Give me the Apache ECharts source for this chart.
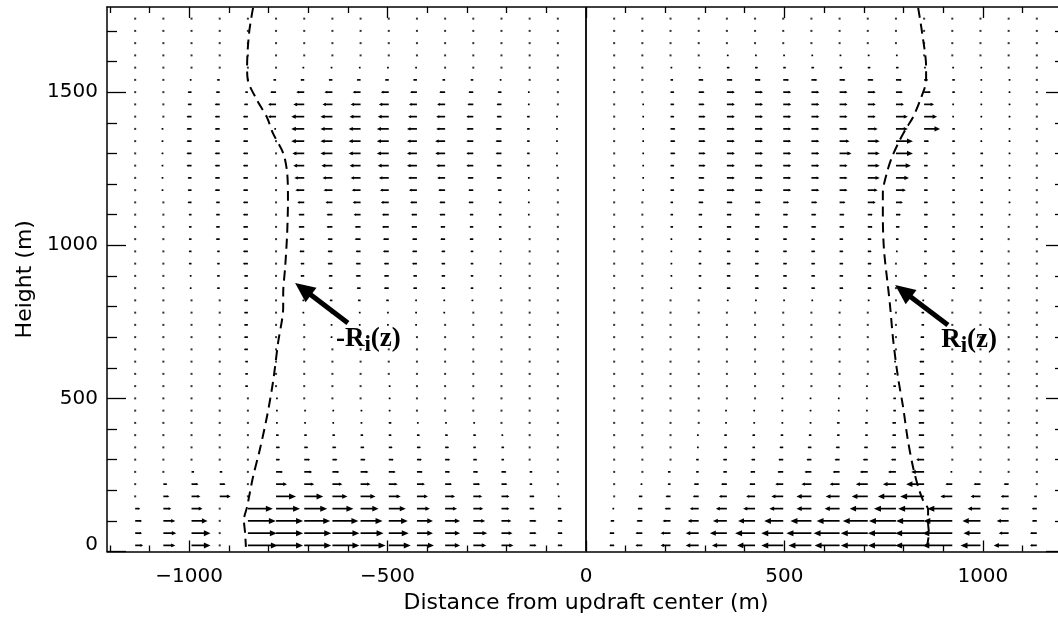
<!DOCTYPE html>
<html><head><meta charset="utf-8">
<script src="https://cdn.jsdelivr.net/npm/echarts@6/dist/echarts.min.js"></script>
<style>html,body{margin:0;padding:0;background:#fff}#c{width:1058px;height:624px}</style>
</head><body><div id="c"></div>
<script>
// Grid heights (m) of the vector rows
const heights = [20,60,100,140,180,220,260,300,340,380,420,460,500,540,580,620,660,700,740,780,820,860,900,940,980,1020,1060,1100,1140,1180,1220,1260,1300,1340,1380,1420,1460,1500,1540,1580,1620,1660,1700,1740];
// Column positions (m)
const colsLeft = [-1136,-1065,-994,-923,-852,-781,-710,-639,-568,-497,-426,-355,-284,-213,-142,-71];
const colsRight = [71,142,213,284,355,426,497,568,639,710,781,852,923,994,1065,1136];
// Horizontal velocity (arbitrary units, + = toward +x), one row per height
const uLeft = [
[8,12,19,0,30,27,27,27,25,22,17,15,13,12,7,5],
[7,13,19,0,29,27,27,27,23,20,16,15,14,11,7,5],
[7,12,16,0,28,27,26,26,22,19,16,15,12,10,7,5],
[5,8,11,0,25,24,23,21,18,17,13,12,10,8,5,4],
[0,6,9,11,0,20,19,15,15,12,11,10,9,8,5,2],
[0,4,7,6,0,11,10,10,10,9,8,7,7,6,3,0],
[0,0,3,3,0,7,8,7,8,7,6,5,5,5,3,0],
[0,0,0,0,0,4,6,5,5,5,5,5,4,3,0,0],
[0,0,0,0,0,4,4,4,4,4,4,4,3,3,0,0],
[0,0,0,0,0,3,3,3,3,3,3,3,3,2,0,0],
[0,0,0,0,0,2,2,2,2,3,2,2,2,0,0,0],
[0,0,0,0,0,2,2,2,2,2,0,0,0,0,0,0],
[0,0,0,0,0,2,0,0,0,2,0,0,0,0,0,0],
[0,0,0,0,-3,0,0,0,0,2,0,0,0,0,0,0],
[0,0,0,0,-3,0,0,0,0,0,0,0,0,0,0,0],
[0,0,0,0,-3,0,0,0,0,0,0,0,0,0,0,0],
[0,0,0,0,-4,0,0,0,0,0,0,0,0,0,0,0],
[0,0,0,0,-4,0,0,-2,-2,-2,0,0,0,0,0,0],
[0,0,0,0,-4,0,0,-2,-2,-2,-2,0,0,0,0,0],
[0,0,0,0,-4,0,-2,-2,-2,-2,-2,-2,0,0,0,0],
[0,0,0,0,-4,0,-2,-3,-3,-3,-2,-2,-2,0,0,0],
[0,0,-2,-3,-4,0,-4,-4,-4,-5,-4,-4,-3,-2,0,0],
[0,0,-2,-3,-4,0,-4,-4,-5,-5,-4,-4,-3,-2,0,0],
[0,0,-3,-3,-5,0,-4,-5,-5,-5,-5,-4,-3,-2,0,0],
[0,0,-3,-3,-5,0,-5,-5,-5,-6,-5,-4,-3,-2,0,0],
[0,0,-3,-4,-5,0,-5,-5,-6,-6,-5,-5,-4,-3,0,0],
[0,0,-3,-4,-5,0,-6,-6,-6,-7,-6,-5,-4,-3,0,0],
[0,0,-3,-4,-5,0,-6,-6,-7,-7,-6,-6,-4,-3,-2,0],
[0,0,-4,-4,-5,0,-7,-7,-8,-8,-7,-6,-5,-3,-2,0],
[0,-2,-4,-5,-5,0,-9,-9,-9,-9,-8,-7,-5,-4,-2,0],
[0,-2,-4,-5,-5,0,-10,-10,-10,-10,-9,-8,-6,-5,-2,0],
[0,-2,-5,-5,-5,0,-11,-11,-11,-11,-10,-9,-7,-5,-3,-2],
[0,-2,-5,-5,-5,0,-12,-12,-12,-12,-10,-10,-7,-6,-3,-2],
[0,-2,-5,-5,-5,0,-13,-12,-12,-12,-10,-10,-7,-6,-3,-2],
[0,-2,-5,-5,-5,-2,-13,-12,-12,-12,-10,-9,-7,-6,-3,-2],
[0,0,-5,-5,-5,-8,-13,-12,-11,-11,-9,-9,-7,-5,-3,-2],
[0,0,-4,-5,-4,-8,-11,-10,-10,-10,-8,-8,-6,-5,-2,0],
[0,0,-4,-4,-3,-6,-8,-8,-8,-8,-7,-6,-5,-4,-2,0],
[0,0,-2,-3,0,-3,-4,-4,-4,-4,-4,-3,-3,-2,0,0],
[0,0,0,0,0,0,-2,-2,-2,-2,-2,0,0,0,0,0],
[0,0,0,0,0,0,0,0,0,0,0,0,0,0,0,0],
[0,0,0,0,0,0,0,0,0,0,0,0,0,0,0,0],
[0,0,0,0,0,0,0,0,0,0,0,0,0,0,0,0],
[0,0,0,0,0,0,0,0,0,0,0,0,0,0,0,0]
];
const uRight = [
[-5,-7,-10,-13,-15,-18,-22,-23,-25,-27,-28,-29,-30,-20,-15,-7],
[-5,-7,-10,-13,-17,-20,-22,-25,-26,-27,-28,-29,-30,-17,-10,-7],
[-4,-6,-8,-11,-14,-17,-19,-21,-23,-25,-27,-28,-29,-18,-12,-5],
[-2,-5,-6,-9,-11,-12,-14,-15,-15,-18,-22,-26,-25,-13,-8,-5],
[0,-4,-5,-6,-8,-9,-12,-15,-14,-16,-18,-24,-12,-10,-8,-3],
[0,-2,-3,-5,-6,-6,-8,-10,-10,-12,-13,-18,-7,-7,-5,0],
[0,0,-3,-3,-4,-5,-6,-7,-7,-8,-8,-13,-2,0,0,0],
[0,0,0,-3,-4,-4,-5,-5,-5,-5,-5,-8,0,0,0,0],
[0,0,0,-2,-3,-3,-4,-4,-4,-4,-5,-6,0,0,0,0],
[0,0,0,-2,-3,-3,-3,-3,-3,-3,-4,-6,0,0,0,0],
[0,0,0,0,-2,-2,-2,-2,-3,-3,-4,-6,0,0,0,0],
[0,0,0,0,-2,-2,-2,-2,-2,-2,-3,-6,0,0,0,0],
[0,0,0,0,0,0,-2,-2,-2,-2,-3,-5,0,0,0,0],
[0,0,0,0,0,0,0,0,0,-2,-3,-5,0,0,0,0],
[0,0,0,0,0,0,0,0,0,0,-2,-5,0,0,0,0],
[0,0,0,0,0,0,0,0,0,0,-2,-5,0,0,0,0],
[0,0,0,0,0,0,0,0,0,0,0,-4,0,0,0,0],
[0,0,0,0,0,0,0,0,0,0,0,-4,0,0,0,0],
[0,0,0,0,0,0,0,0,0,0,0,-3,0,0,0,0],
[0,0,0,0,0,0,0,0,0,0,0,-3,0,0,0,0],
[0,0,0,0,2,2,2,2,2,2,0,-2,0,0,0,0],
[0,0,2,3,4,4,4,4,4,4,0,3,3,3,0,0],
[0,0,2,3,4,4,4,4,4,4,0,3,3,3,0,0],
[0,0,2,3,4,4,4,4,4,4,0,3,3,3,0,0],
[0,0,2,3,4,4,4,4,4,4,2,3,3,3,0,0],
[0,0,2,3,4,4,4,4,4,4,3,3,3,3,0,0],
[0,0,3,4,5,5,5,5,5,5,4,4,3,3,0,0],
[0,0,3,4,5,5,5,5,5,5,5,4,3,3,2,0],
[0,0,3,5,6,6,6,6,6,8,7,4,3,3,2,0],
[0,2,4,6,8,8,8,8,8,10,10,4,3,3,2,0],
[0,2,4,6,8,8,8,8,8,12,13,4,3,3,2,0],
[0,2,4,7,8,8,8,8,8,12,15,4,3,3,2,0],
[0,2,5,7,8,8,8,8,12,12,17,4,3,3,2,0],
[0,2,5,7,8,8,8,8,10,12,17,5,3,2,2,0],
[0,2,5,7,8,8,8,8,8,10,12,16,3,2,2,0],
[0,2,4,7,8,8,8,8,8,8,12,13,2,2,2,0],
[0,2,4,6,8,8,8,8,8,8,8,10,2,2,2,0],
[0,0,4,6,8,8,8,8,8,8,7,7,3,2,2,0],
[0,0,3,5,6,6,6,6,6,6,6,4,3,2,2,0],
[0,0,2,2,3,3,3,3,3,3,3,2,2,2,0,0],
[0,0,0,0,2,2,2,2,2,2,2,0,0,0,0,0],
[0,0,0,0,0,0,0,0,0,0,0,0,0,0,0,0],
[0,0,0,0,0,0,0,0,0,0,0,0,0,0,0,0],
[0,0,0,0,0,0,0,0,0,0,0,0,0,0,0,0]
];
// Dashed boundary curves [x (m), z (m)]
const rNeg = [[-839,1775],[-849,1693],[-854,1582],[-852,1539],[-829,1474],[-804,1418],[-789,1366],[-763,1301],[-753,1236],[-751,1148],[-753,1040],[-758,929],[-763,844],[-763,798],[-776,681],[-789,551],[-804,440],[-822,332],[-839,244],[-854,146],[-862,103],[-859,60],[-857,15]];
const rPos = [[837,1775],[847,1693],[857,1582],[857,1539],[842,1474],[824,1418],[809,1386],[791,1344],[771,1288],[758,1236],[748,1171],[748,1092],[751,984],[761,864],[766,805],[774,691],[786,570],[799,472],[811,364],[824,276],[837,211],[849,168],[862,136],[862,93],[864,60],[859,15]];
// Annotations
const annoLabels = ['{b|-R}{s|i}{b|(z)}', '{b|R}{s|i}{b|(z)}'];
const annoLabelPos = [[-630,744],[895,740]];
const annoTips = [[-733,877],[779,870]];
const annoTails = [[-600,746],[912,740]];
// Axis ticks
const xMajor = [-1000,-500,0,500,1000];
const xMinor = [-1200,-1100,-900,-800,-700,-600,-400,-300,-200,-100,100,200,300,400,600,700,800,900,1100,1200];
const yMajor = [0,500,1000,1500];
const yMinor = [100,200,300,400,600,700,800,900,1100,1200,1300,1400,1600,1700];
const centerLine = [[0,0],[0,1778]];

const XMIN=-1207, XMAX=1207, YMIN=0, YMAX=1778;
const VSCALE = 2.52; // axis metres per velocity unit

const vecData = [];
heights.forEach((z,k)=>{
  colsLeft.forEach((x,j)=>vecData.push([x,z,uLeft[k][j]]));
  colsRight.forEach((x,j)=>vecData.push([x,z,uRight[k][j]]));
});

function vecItem(params, api){
  const x=api.value(0), z=api.value(1), u=api.value(2);
  const p0=api.coord([x,z]);
  const p1=api.coord([x+u*VSCALE,z]);
  const L=p1[0]-p0[0];
  if (Math.abs(L)<1.2) return {type:'rect', shape:{x:p0[0]-1,y:p0[1]-1,width:2,height:2}, style:{fill:'#333'}};
  const d=L>0?1:-1, a=Math.abs(L);
  const h=Math.min(7,a*0.35), w=Math.min(3,a*0.16);
  return {type:'group', children:[
    {type:'line', shape:{x1:p0[0],y1:p0[1],x2:p1[0]-d*h*0.5,y2:p1[1]}, style:{stroke:'#000',lineWidth:1.7}},
    {type:'polygon', shape:{points:[[p1[0],p1[1]],[p1[0]-d*h,p1[1]-w],[p1[0]-d*h,p1[1]+w]]}, style:{fill:'#000'}}
  ]};
}

const annoData = annoTips.map((t,i)=>[t[0],t[1],annoTails[i][0],annoTails[i][1],annoLabelPos[i][0],annoLabelPos[i][1],i]);
function annoItem(params, api){
  const tip=api.coord([api.value(0),api.value(1)]);
  const tail=api.coord([api.value(2),api.value(3)]);
  const lp=api.coord([api.value(4),api.value(5)]);
  const i=api.value(6);
  const dx=tip[0]-tail[0], dy=tip[1]-tail[1], len=Math.hypot(dx,dy);
  const ux=dx/len, uy=dy/len, nx=-uy, ny=ux;
  const H=20, W=9;
  const bx=tip[0]-ux*H, by=tip[1]-uy*H;
  return {type:'group', children:[
    {type:'line', shape:{x1:tail[0],y1:tail[1],x2:bx+ux*2,y2:by+uy*2}, style:{stroke:'#000',lineWidth:5}},
    {type:'polygon', shape:{points:[[tip[0],tip[1]],[bx+nx*W,by+ny*W],[bx-nx*W,by-ny*W]]}, style:{fill:'#000'}},
    {type:'text', x:lp[0], y:lp[1], style:{text:annoLabels[i], align:'left', verticalAlign:'top', fill:'#000',
      rich:{
        b:{fontFamily:'Liberation Serif', fontWeight:'bold', fontSize:27, lineHeight:30, fill:'#000'},
        s:{fontFamily:'Liberation Serif', fontWeight:'bold', fontSize:23, lineHeight:20, padding:[13,0,0,0], fill:'#000'}
      }}}
  ]};
}

const FONT='DejaVu Sans';
function xAx(pos, vals, len, withLine, withLabel){
  return {type:'value', position:pos, min:XMIN, max:XMAX, gridIndex:0,
    axisLine:{show:withLine, onZero:false, lineStyle:{color:'#000', width:1.5}},
    axisTick:{show:true, inside:true, length:len, customValues:vals, lineStyle:{color:'#000', width:1.3}},
    axisLabel:{show:withLabel, customValues:vals, margin:15, fontFamily:FONT, fontSize:20, color:'#000',
      formatter:v=> v<0 ? '\u2212'+Math.abs(v) : String(v)},
    splitLine:{show:false},
    name: withLabel ? 'Distance from updraft center (m)' : '', nameLocation:'middle', nameGap:41,
    nameTextStyle:{fontFamily:FONT, fontSize:22, color:'#000'}
  };
}
function yAx(pos, vals, len, withLine, withLabel){
  return {type:'value', position:pos, min:YMIN, max:YMAX, gridIndex:0,
    axisLine:{show:withLine, onZero:false, lineStyle:{color:'#000', width:1.5}},
    axisTick:{show:true, inside:true, length:len, customValues:vals, lineStyle:{color:'#000', width:1.3}},
    axisLabel:{show:withLabel, customValues:vals, margin:9, fontFamily:FONT, fontSize:20, color:'#000',
      formatter:v=> v===0 ? '{z|0}' : String(v),
      rich:{z:{fontFamily:FONT, fontSize:20, color:'#000', padding:[0,0,14,0]}}},
    splitLine:{show:false},
    name: withLabel ? 'Height (m)' : '', nameLocation:'middle', nameGap:68, nameRotate:90,
    nameTextStyle:{fontFamily:FONT, fontSize:22, color:'#000'}
  };
}

const chart = echarts.init(document.getElementById('c'), null, {renderer:'canvas'});
chart.setOption({
  animation:false,
  backgroundColor:'#fff',
  grid:{left:107, top:7, width:958, height:544.5, containLabel:false, outerBoundsMode:'none'},
  xAxis:[ xAx('bottom', xMajor, 11, true, true), xAx('bottom', xMinor, 6, false, false),
          xAx('top', xMajor, 11, true, false), xAx('top', xMinor, 6, false, false) ],
  yAxis:[ yAx('left', yMajor, 19, true, true), yAx('left', yMinor, 10, false, false),
          yAx('right', yMajor, 19, true, false), yAx('right', yMinor, 10, false, false) ],
  series:[
    {type:'custom', name:'wind', data:vecData, dimensions:['x','z','u'], encode:{x:'x', y:'z'},
      renderItem:vecItem, xAxisIndex:0, yAxisIndex:0, silent:true},
    {type:'line', data:centerLine, showSymbol:false, lineStyle:{color:'#000', width:1.8}, xAxisIndex:0, yAxisIndex:0, silent:true},
    {type:'line', data:rNeg, showSymbol:false, smooth:0.3, lineStyle:{color:'#000', width:2, type:[10,6]}, xAxisIndex:0, yAxisIndex:0, silent:true},
    {type:'line', data:rPos, showSymbol:false, smooth:0.3, lineStyle:{color:'#000', width:2, type:[10,6]}, xAxisIndex:0, yAxisIndex:0, silent:true},
    {type:'custom', data:annoData, dimensions:['tx','tz','sx','sz','lx','lz','i'], encode:{x:'tx', y:'tz'},
      renderItem:annoItem, xAxisIndex:0, yAxisIndex:0, silent:true, clip:false}
  ]
});
</script></body></html>
